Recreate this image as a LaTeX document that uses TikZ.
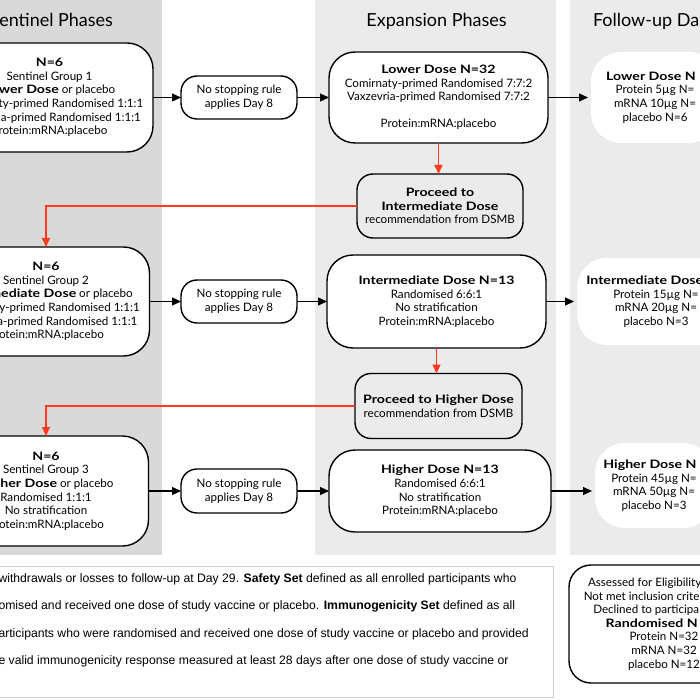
\documentclass[tikz,border=0pt]{standalone}
\usepackage{fontspec}
\setmainfont{Lato}[BoldFeatures={FakeStretch=1.22}]
\newfontfamily\arialfont{Liberation Sans}
\usetikzlibrary{arrows.meta}
\definecolor{colA}{HTML}{D9D9D9}
\definecolor{colB}{HTML}{EBEBEB}
\definecolor{redline}{HTML}{FF3B1F}
\definecolor{boxgray}{HTML}{CCCCCC}
\begin{document}
\begin{tikzpicture}[x=1pt,y=-1pt,
 every node/.style={inner sep=0pt, outer sep=0pt},
 txt/.style={font=\fontsize{11.6}{13.6}\selectfont, align=center},
 bigbox/.style={draw=black, line width=1.4pt, fill=white, rounded corners=26pt, txt},
 smallbox/.style={draw=black, line width=1.4pt, fill=white, rounded corners=16pt, txt},
 propbox/.style={draw=black, line width=1.4pt, fill=colB, rounded corners=16pt, txt},
 fubox/.style={fill=white, rounded corners=30pt, txt},
 title/.style={font=\fontsize{18}{22}\selectfont, anchor=base},
 note/.style={font=\arialfont\fontsize{12.2}{13}\selectfont, anchor=base west},
 blk/.style={draw=black, line width=1.2pt, -{Triangle[length=9pt,width=8pt]}},
 redarr/.style={draw=redline, line width=1.5pt, -{Triangle[length=9pt,width=8pt]}},
]
\useasboundingbox (0,0) rectangle (700,700);
\clip (0,0) rectangle (700,700);
% column backgrounds
\fill[colA] (-20,0) rectangle (162,555);
\fill[colB] (315,0) rectangle (556,555);
\fill[colB] (570,0) rectangle (720,555);
% titles
\node[title, anchor=base east] (tS) at (113,27) {Sentinel Phases};
\node[title] (tE) at (436.5,27) {Expansion Phases};
\node[title, anchor=base west] (tF) at (593,27) {Follow-up Da};
% sentinel boxes
\node[bigbox, minimum width=207pt, minimum height=109pt] (S1) at (49.5,97.5)
 {\textbf{N=6}\\Sentinel Group 1\\\textbf{Lower Dose} or placebo\\Comirnaty-primed Randomised 1:1:1\\Vaxzevria-primed Randomised 1:1:1\\Protein:mRNA:placebo};
\node[bigbox, minimum width=207pt, minimum height=109pt] (S2) at (46,301.5)
 {\textbf{N=6}\\Sentinel Group 2\\\textbf{Intermediate Dose} or placebo\\Comirnaty-primed Randomised 1:1:1\\Vaxzevria-primed Randomised 1:1:1\\Protein:mRNA:placebo};
\node[bigbox, minimum width=205pt, minimum height=110pt] (S3) at (46,491)
 {\textbf{N=6}\\Sentinel Group 3\\\textbf{Higher Dose} or placebo\\Randomised 1:1:1\\No stratification\\Protein:mRNA:placebo};
% no stopping rule boxes
\node[smallbox, minimum width=116pt, minimum height=43pt] (N1) at (239,97.5) {No stopping rule\\applies Day 8};
\node[smallbox, minimum width=116pt, minimum height=43pt] (N2) at (239,301.5) {No stopping rule\\applies Day 8};
\node[smallbox, minimum width=116pt, minimum height=44pt] (N3) at (239,491) {No stopping rule\\applies Day 8};
% expansion boxes
\node[bigbox, minimum width=219pt, minimum height=91pt] (E1) at (438.5,97.5)
 {\textbf{Lower Dose N=32}\\Comirnaty-primed Randomised 7:7:2\\Vaxzevria-primed Randomised 7:7:2\\[13.6pt]Protein:mRNA:placebo};
\node[bigbox, minimum width=219pt, minimum height=93pt] (E2) at (436.5,301.5)
 {\textbf{Intermediate Dose N=13}\\Randomised 6:6:1\\No stratification\\Protein:mRNA:placebo};
\node[bigbox, minimum width=222pt, minimum height=82pt] (E3) at (440,491)
 {\textbf{Higher Dose N=13}\\Randomised 6:6:1\\No stratification\\Protein:mRNA:placebo};
% proceed boxes
\node[propbox, minimum width=166pt, minimum height=64pt] (P1) at (440,206)
 {\textbf{Proceed to}\\\textbf{Intermediate Dose}\\recommendation from DSMB};
\node[propbox, minimum width=167pt, minimum height=65pt] (P2) at (438.5,406)
 {\textbf{Proceed to Higher Dose}\\recommendation from DSMB};
% follow-up boxes
\node[fubox, minimum width=128pt, minimum height=91pt] (F1) at (655,97.5)
 {\textbf{Lower Dose N\phantom{=}}\\Protein 5µg N=\\mRNA 10µg N=\\placebo N=6};
\node[fubox, minimum width=158pt, minimum height=87pt] (F2) at (656,301.5)
 {\textbf{Intermediate Dose N\phantom{=}}\\Protein 15µg N=\\mRNA 20µg N=\\placebo N=3};
\node[fubox, minimum width=118pt, minimum height=85pt] (F3) at (654,485.5)
 {\textbf{Higher Dose N\phantom{=}}\\Protein 45µg N=\\mRNA 50µg N=\\placebo N=3};
% connectors
\draw[blk] (S1.east) -- (N1.west);
\draw[blk] (N1.east) -- (E1.west);
\draw[blk, shorten >=3pt] (E1.east) -- (F1.west);
\draw[blk] (S2.east) -- (N2.west);
\draw[blk] (N2.east) -- (E2.west);
\draw[blk, shorten >=3pt] (E2.east) -- (F2.west);
\draw[blk] (S3.east) -- (N3.west);
\draw[blk] (N3.east) -- (E3.west);
\draw[blk, shorten >=3pt] (E3.east) -- (E3.east -| F3.west);
\draw[redarr] (E1.south) -- (E1.south |- P1.north);
\draw[redarr] (P1.west) -| (S2.north);
\draw[redarr] (E2.south) -- (E2.south |- P2.north);
\draw[redarr] (P2.west) -| (S3.north);
% bottom notes
\draw[draw=boxgray, fill=white, line width=0.8pt] (-5,566) rectangle (553,697);
\node[note] (L1) at (-1.5,582) {withdrawals or losses to follow-up at Day 29. \textbf{Safety Set} defined as all enrolled participants who};
\node[note] (L2) at (-1.5,609.5) {omised and received one dose of study vaccine or placebo. \textbf{Immunogenicity Set} defined as all};
\node[note] (L3) at (-1.5,637) {articipants who were randomised and received one dose of study vaccine or placebo and provided};
\node[note] (L4) at (-1.5,664.5) {e valid immunogenicity response measured at least 28 days after one dose of study vaccine or};
\node[bigbox, rounded corners=22pt, minimum width=190pt, minimum height=118pt] (R) at (664,624)
 {Assessed for Eligibility\phantom{ N=100}\\Not met inclusion crite\phantom{ria N=20}\\Declined to participa\phantom{te N=4}\\\textbf{Randomised N\phantom{=76}}\\Protein N=32\\mRNA N=32\\placebo N=12};
\end{tikzpicture}
\end{document}
